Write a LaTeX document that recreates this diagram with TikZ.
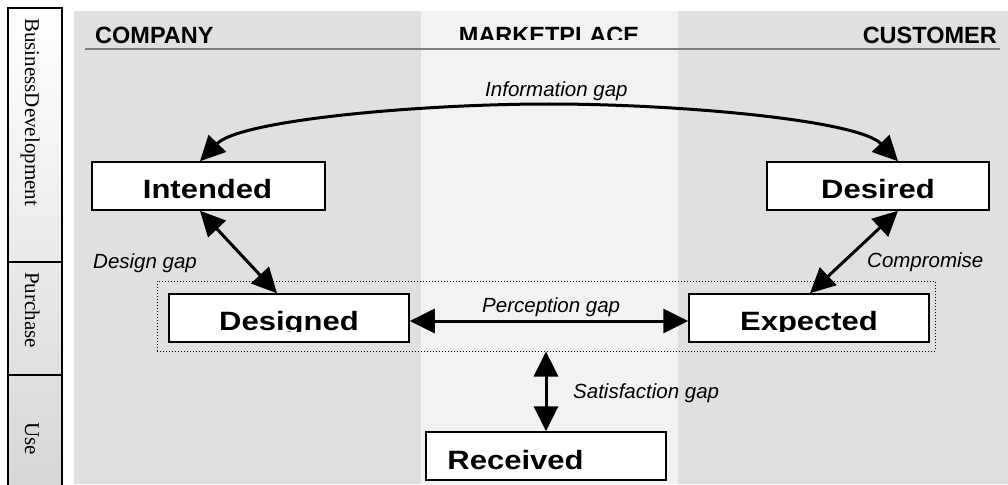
\documentclass[tikz,border=0pt]{standalone}
\usepackage{fontspec}
\setmainfont{Liberation Sans}
\newfontfamily\timesf{Liberation Serif}
\usetikzlibrary{arrows.meta,calc}
\definecolor{colgrey}{HTML}{E0E0E0}
\definecolor{mktgrey}{HTML}{F2F2F2}
\definecolor{hdrline}{HTML}{808080}
\definecolor{sidebot}{HTML}{D6D6D6}
\newcommand{\wide}[1]{\scalebox{1.17}[1]{#1}}
\begin{document}
\begin{tikzpicture}[x=1pt,y=-1pt,
  stage/.style={draw=black, line width=1.5pt, fill=white, minimum width=#1, minimum height=48pt, inner sep=0pt},
  gap/.style={line width=3pt, {Triangle[length=25pt,width=24pt]}-{Triangle[length=25pt,width=24pt]}},
  gaplabel/.style={font=\fontsize{20.5}{24}\selectfont\itshape, anchor=base west, inner sep=0pt},
  boxtext/.style={font=\fontsize{26.5}{32}\selectfont\bfseries, anchor=base, inner sep=0pt},
  header/.style={font=\fontsize{23.5}{28}\selectfont\bfseries, anchor=base west, inner sep=0pt},
  sidetext/.style={font=\timesf\fontsize{21}{25}\selectfont, rotate=-90, anchor=base west, inner sep=0pt},
  grpbox/.style={draw=black, dotted, line width=1pt, inner sep=0pt}]
\useasboundingbox (0,0) rectangle (1008,484);
\fill[white] (0,0) rectangle (1008,484);
% background columns
\fill[colgrey] (74,11) rectangle (421,484);
\fill[mktgrey] (421,11) rectangle (678,484);
\fill[colgrey] (678,11) rectangle (1008,484);
% side panel
\shade[top color=white, bottom color=sidebot] (8,8) rectangle (62,490);
\draw[line width=1.5pt] (8,490) -- (8,8) -- (62,8) -- (62,490);
\draw[line width=1.5pt] (8,262) -- (62,262) (8,375) -- (62,375);
\node[sidetext] (sbd) at (25,18) {BusinessDevelopment};
\node[sidetext] (spu) at (25,272) {Purchase};
\node[sidetext] (sus) at (25,422) {Use};
% headers
\node[header] (hco) at (95,44) {COMPANY};
\node[header, anchor=base east] (hcu) at (997,44) {CUSTOMER};
\begin{scope}
  \clip (421,11) rectangle (678,39.5);
  \node[header, anchor=base] (hmk) at (549,44) {MARKETPLACE};
\end{scope}
\draw[hdrline, line width=1.5pt] (85,49) -- (1000,49);
% group
\node[grpbox, minimum width=778pt, minimum height=70pt] (grp) at (546,316) {};
% stages
\node[stage=233pt] (int) at (208.5,186) {};
\node[stage=222pt] (dsr) at (878,186) {};
\node[stage=240pt] (dgn) at (289,318) {};
\node[stage=240pt] (exp) at (809,318) {};
\node[stage=240pt] (rec) at (546,456) {};
\begin{scope}
  \clip (int.north west) rectangle ([yshift=11pt]int.south east);
  \node[boxtext] (intt) at ([xshift=-1pt,yshift=12pt]int.south) {\wide{Intended}};
\end{scope}
\begin{scope}
  \clip (dsr.north west) rectangle ([yshift=11pt]dsr.south east);
  \node[boxtext] (dsrt) at ([yshift=12pt]dsr.south) {\wide{Desired}};
\end{scope}
\begin{scope}
  \clip (dgn.north west) rectangle ([yshift=11pt]dgn.south east);
  \node[boxtext] (dgnt) at ([yshift=12pt]dgn.south) {\wide{Designed}};
\end{scope}
\begin{scope}
  \clip (exp.north west) rectangle ([yshift=11pt]exp.south east);
  \node[boxtext] (expt) at ([yshift=12pt]exp.south) {\wide{Expected}};
\end{scope}
\node[boxtext, anchor=base west] (rect) at ([xshift=22pt,yshift=11pt]rec.south west) {\wide{Received}};
% connectors
\draw[gap] ([xshift=-8.5pt]int.north) .. controls (240,120) and (420,104) .. (549,104)
  .. controls (678,104) and (858,120) .. ([xshift=20pt]dsr.north);
\draw[gap] ([xshift=-8.5pt]int.south) -- ([xshift=-12pt]dgn.north);
\draw[gap] ([xshift=20pt]dsr.south) -- ([xshift=1pt]exp.north);
\draw[gap] ([yshift=-3pt]dgn.east) -- ([yshift=-3pt]exp.west);
\draw[gap] (grp.south) -- (rec.north);
% labels
\node[gaplabel] (linfo) at (485,97) {Information gap};
\node[gaplabel] (ldesign) at (93,268) {Design gap};
\node[gaplabel] (lcomp) at (867,267) {Compromise};
\node[gaplabel] (lperc) at (482,312) {Perception gap};
\node[gaplabel] (lsat) at (573,398) {Satisfaction gap};
\end{tikzpicture}
\end{document}
